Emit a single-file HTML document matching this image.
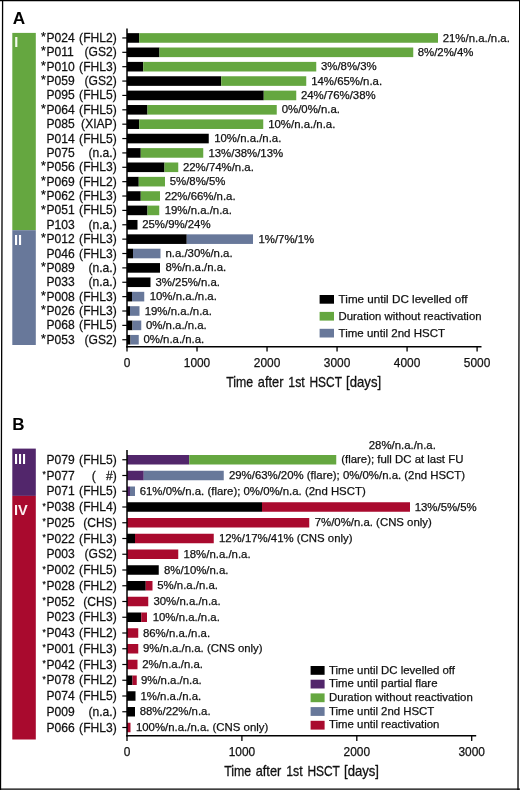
<!DOCTYPE html>
<html><head><meta charset="utf-8"><title>Figure</title>
<style>
html,body{margin:0;padding:0;background:#fff;}
body{width:520px;height:790px;overflow:hidden;}
svg{display:block;}
svg text{font-family:"Liberation Sans",sans-serif;}
</style></head><body>
<svg width="520" height="790" viewBox="0 0 520 790">
<rect x="0.00" y="0.00" width="520.00" height="790.00" fill="#fff"/>
<path d="M2.6 0 L0.5 790 M519.7 0 L518.0 790 M0 0.5 L520 0.5 M0 789.2 L520 789.2" fill="none" stroke="#000" stroke-width="1.3"/>
<rect x="12.30" y="32.90" width="23.50" height="197.30" fill="#65a740"/>
<rect x="12.30" y="230.20" width="23.50" height="114.80" fill="#68789a"/>
<line x1="122.30" y1="37.95" x2="127.00" y2="37.95" stroke="#000" stroke-width="1.2"/>
<rect x="127.00" y="33.15" width="12.25" height="9.60" fill="#000"/>
<rect x="139.25" y="33.15" width="298.75" height="9.60" fill="#65a740"/>
<line x1="122.30" y1="52.32" x2="127.00" y2="52.32" stroke="#000" stroke-width="1.2"/>
<rect x="127.00" y="47.52" width="32.50" height="9.60" fill="#000"/>
<rect x="159.50" y="47.52" width="253.75" height="9.60" fill="#65a740"/>
<line x1="122.30" y1="66.69" x2="127.00" y2="66.69" stroke="#000" stroke-width="1.2"/>
<rect x="127.00" y="61.89" width="16.25" height="9.60" fill="#000"/>
<rect x="143.25" y="61.89" width="173.00" height="9.60" fill="#65a740"/>
<line x1="122.30" y1="81.06" x2="127.00" y2="81.06" stroke="#000" stroke-width="1.2"/>
<rect x="127.00" y="76.26" width="94.25" height="9.60" fill="#000"/>
<rect x="221.25" y="76.26" width="85.00" height="9.60" fill="#65a740"/>
<line x1="122.30" y1="95.43" x2="127.00" y2="95.43" stroke="#000" stroke-width="1.2"/>
<rect x="127.00" y="90.63" width="136.75" height="9.60" fill="#000"/>
<rect x="263.75" y="90.63" width="32.50" height="9.60" fill="#65a740"/>
<line x1="122.30" y1="109.81" x2="127.00" y2="109.81" stroke="#000" stroke-width="1.2"/>
<rect x="127.00" y="105.01" width="20.50" height="9.60" fill="#000"/>
<rect x="147.50" y="105.01" width="129.25" height="9.60" fill="#65a740"/>
<line x1="122.30" y1="124.18" x2="127.00" y2="124.18" stroke="#000" stroke-width="1.2"/>
<rect x="127.00" y="119.38" width="12.25" height="9.60" fill="#000"/>
<rect x="139.25" y="119.38" width="124.00" height="9.60" fill="#65a740"/>
<line x1="122.30" y1="138.55" x2="127.00" y2="138.55" stroke="#000" stroke-width="1.2"/>
<rect x="127.00" y="133.75" width="81.75" height="9.60" fill="#000"/>
<line x1="122.30" y1="152.92" x2="127.00" y2="152.92" stroke="#000" stroke-width="1.2"/>
<rect x="127.00" y="148.12" width="13.75" height="9.60" fill="#000"/>
<rect x="140.75" y="148.12" width="62.50" height="9.60" fill="#65a740"/>
<line x1="122.30" y1="167.29" x2="127.00" y2="167.29" stroke="#000" stroke-width="1.2"/>
<rect x="127.00" y="162.49" width="37.50" height="9.60" fill="#000"/>
<rect x="164.50" y="162.49" width="13.75" height="9.60" fill="#65a740"/>
<line x1="122.30" y1="181.66" x2="127.00" y2="181.66" stroke="#000" stroke-width="1.2"/>
<rect x="127.00" y="176.86" width="11.75" height="9.60" fill="#000"/>
<rect x="138.75" y="176.86" width="26.25" height="9.60" fill="#65a740"/>
<line x1="122.30" y1="196.03" x2="127.00" y2="196.03" stroke="#000" stroke-width="1.2"/>
<rect x="127.00" y="191.23" width="13.75" height="9.60" fill="#000"/>
<rect x="140.75" y="191.23" width="19.25" height="9.60" fill="#65a740"/>
<line x1="122.30" y1="210.40" x2="127.00" y2="210.40" stroke="#000" stroke-width="1.2"/>
<rect x="127.00" y="205.60" width="20.50" height="9.60" fill="#000"/>
<rect x="147.50" y="205.60" width="11.75" height="9.60" fill="#65a740"/>
<line x1="122.30" y1="224.77" x2="127.00" y2="224.77" stroke="#000" stroke-width="1.2"/>
<rect x="127.00" y="219.97" width="10.50" height="9.60" fill="#000"/>
<line x1="122.30" y1="239.14" x2="127.00" y2="239.14" stroke="#000" stroke-width="1.2"/>
<rect x="127.00" y="234.34" width="59.75" height="9.60" fill="#000"/>
<rect x="186.75" y="234.34" width="66.25" height="9.60" fill="#68789a"/>
<line x1="122.30" y1="253.51" x2="127.00" y2="253.51" stroke="#000" stroke-width="1.2"/>
<rect x="127.00" y="248.71" width="6.00" height="9.60" fill="#000"/>
<rect x="133.00" y="248.71" width="27.50" height="9.60" fill="#68789a"/>
<line x1="122.30" y1="267.89" x2="127.00" y2="267.89" stroke="#000" stroke-width="1.2"/>
<rect x="127.00" y="263.09" width="33.00" height="9.60" fill="#000"/>
<line x1="122.30" y1="282.26" x2="127.00" y2="282.26" stroke="#000" stroke-width="1.2"/>
<rect x="127.00" y="277.46" width="23.50" height="9.60" fill="#000"/>
<line x1="122.30" y1="296.63" x2="127.00" y2="296.63" stroke="#000" stroke-width="1.2"/>
<rect x="127.00" y="291.83" width="5.00" height="9.60" fill="#000"/>
<rect x="132.00" y="291.83" width="12.25" height="9.60" fill="#68789a"/>
<line x1="122.30" y1="311.00" x2="127.00" y2="311.00" stroke="#000" stroke-width="1.2"/>
<rect x="127.00" y="306.20" width="3.00" height="9.60" fill="#000"/>
<rect x="130.00" y="306.20" width="9.50" height="9.60" fill="#68789a"/>
<line x1="122.30" y1="325.37" x2="127.00" y2="325.37" stroke="#000" stroke-width="1.2"/>
<rect x="127.00" y="320.57" width="5.50" height="9.60" fill="#000"/>
<rect x="132.50" y="320.57" width="8.75" height="9.60" fill="#68789a"/>
<line x1="122.30" y1="339.74" x2="127.00" y2="339.74" stroke="#000" stroke-width="1.2"/>
<rect x="127.00" y="334.94" width="3.50" height="9.60" fill="#000"/>
<rect x="130.50" y="334.94" width="8.25" height="9.60" fill="#68789a"/>
<line x1="127.00" y1="28.50" x2="127.00" y2="347.50" stroke="#000" stroke-width="1.5"/>
<line x1="126.30" y1="346.80" x2="481.50" y2="346.80" stroke="#000" stroke-width="1.5"/>
<line x1="127.00" y1="346.80" x2="127.00" y2="351.60" stroke="#000" stroke-width="1.3"/>
<line x1="197.02" y1="346.80" x2="197.02" y2="351.60" stroke="#000" stroke-width="1.3"/>
<line x1="267.04" y1="346.80" x2="267.04" y2="351.60" stroke="#000" stroke-width="1.3"/>
<line x1="337.06" y1="346.80" x2="337.06" y2="351.60" stroke="#000" stroke-width="1.3"/>
<line x1="407.08" y1="346.80" x2="407.08" y2="351.60" stroke="#000" stroke-width="1.3"/>
<line x1="477.10" y1="346.80" x2="477.10" y2="351.60" stroke="#000" stroke-width="1.3"/>
<rect x="319.60" y="295.00" width="14.40" height="8.70" fill="#000"/>
<rect x="319.60" y="311.90" width="14.40" height="8.70" fill="#65a740"/>
<rect x="319.60" y="328.80" width="14.40" height="8.70" fill="#68789a"/>
<rect x="12.30" y="448.60" width="23.50" height="47.30" fill="#52266b"/>
<rect x="12.30" y="495.90" width="23.50" height="243.60" fill="#a90a2e"/>
<line x1="122.30" y1="459.75" x2="127.00" y2="459.75" stroke="#000" stroke-width="1.2"/>
<rect x="127.00" y="455.00" width="62.25" height="9.50" fill="#52266b"/>
<rect x="189.25" y="455.00" width="147.00" height="9.50" fill="#65a740"/>
<line x1="122.30" y1="475.50" x2="127.00" y2="475.50" stroke="#000" stroke-width="1.2"/>
<rect x="127.00" y="470.75" width="16.75" height="9.50" fill="#52266b"/>
<rect x="143.75" y="470.75" width="80.00" height="9.50" fill="#68789a"/>
<line x1="122.30" y1="491.25" x2="127.00" y2="491.25" stroke="#000" stroke-width="1.2"/>
<rect x="127.00" y="486.50" width="3.00" height="9.50" fill="#52266b"/>
<rect x="130.00" y="486.50" width="5.00" height="9.50" fill="#68789a"/>
<line x1="122.30" y1="507.00" x2="127.00" y2="507.00" stroke="#000" stroke-width="1.2"/>
<rect x="127.00" y="502.25" width="135.00" height="9.50" fill="#000"/>
<rect x="262.00" y="502.25" width="148.00" height="9.50" fill="#a90a2e"/>
<line x1="122.30" y1="522.75" x2="127.00" y2="522.75" stroke="#000" stroke-width="1.2"/>
<rect x="127.00" y="518.00" width="182.25" height="9.50" fill="#a90a2e"/>
<line x1="122.30" y1="538.50" x2="127.00" y2="538.50" stroke="#000" stroke-width="1.2"/>
<rect x="127.00" y="533.75" width="8.00" height="9.50" fill="#000"/>
<rect x="135.00" y="533.75" width="78.75" height="9.50" fill="#a90a2e"/>
<line x1="122.30" y1="554.25" x2="127.00" y2="554.25" stroke="#000" stroke-width="1.2"/>
<rect x="127.00" y="549.50" width="51.25" height="9.50" fill="#a90a2e"/>
<line x1="122.30" y1="570.00" x2="127.00" y2="570.00" stroke="#000" stroke-width="1.2"/>
<rect x="127.00" y="565.25" width="31.75" height="9.50" fill="#000"/>
<line x1="122.30" y1="585.75" x2="127.00" y2="585.75" stroke="#000" stroke-width="1.2"/>
<rect x="127.00" y="581.00" width="18.75" height="9.50" fill="#000"/>
<rect x="145.75" y="581.00" width="6.75" height="9.50" fill="#a90a2e"/>
<line x1="122.30" y1="601.50" x2="127.00" y2="601.50" stroke="#000" stroke-width="1.2"/>
<rect x="127.00" y="596.75" width="21.25" height="9.50" fill="#a90a2e"/>
<line x1="122.30" y1="617.25" x2="127.00" y2="617.25" stroke="#000" stroke-width="1.2"/>
<rect x="127.00" y="612.50" width="14.25" height="9.50" fill="#000"/>
<rect x="141.25" y="612.50" width="5.75" height="9.50" fill="#a90a2e"/>
<line x1="122.30" y1="633.00" x2="127.00" y2="633.00" stroke="#000" stroke-width="1.2"/>
<rect x="127.00" y="628.25" width="11.25" height="9.50" fill="#a90a2e"/>
<line x1="122.30" y1="648.75" x2="127.00" y2="648.75" stroke="#000" stroke-width="1.2"/>
<rect x="127.00" y="644.00" width="11.25" height="9.50" fill="#a90a2e"/>
<line x1="122.30" y1="664.50" x2="127.00" y2="664.50" stroke="#000" stroke-width="1.2"/>
<rect x="127.00" y="659.75" width="10.50" height="9.50" fill="#a90a2e"/>
<line x1="122.30" y1="680.25" x2="127.00" y2="680.25" stroke="#000" stroke-width="1.2"/>
<rect x="127.00" y="675.50" width="5.50" height="9.50" fill="#000"/>
<rect x="132.50" y="675.50" width="4.25" height="9.50" fill="#a90a2e"/>
<line x1="122.30" y1="696.00" x2="127.00" y2="696.00" stroke="#000" stroke-width="1.2"/>
<rect x="127.00" y="691.25" width="8.50" height="9.50" fill="#000"/>
<line x1="122.30" y1="711.75" x2="127.00" y2="711.75" stroke="#000" stroke-width="1.2"/>
<rect x="127.00" y="707.00" width="8.00" height="9.50" fill="#000"/>
<line x1="122.30" y1="727.50" x2="127.00" y2="727.50" stroke="#000" stroke-width="1.2"/>
<rect x="127.00" y="722.75" width="3.50" height="9.50" fill="#a90a2e"/>
<line x1="127.00" y1="450.00" x2="127.00" y2="736.50" stroke="#000" stroke-width="1.5"/>
<line x1="126.30" y1="735.75" x2="476.20" y2="735.75" stroke="#000" stroke-width="1.5"/>
<line x1="127.00" y1="735.75" x2="127.00" y2="741.00" stroke="#000" stroke-width="1.3"/>
<line x1="241.90" y1="735.75" x2="241.90" y2="741.00" stroke="#000" stroke-width="1.3"/>
<line x1="356.80" y1="735.75" x2="356.80" y2="741.00" stroke="#000" stroke-width="1.3"/>
<line x1="471.70" y1="735.75" x2="471.70" y2="741.00" stroke="#000" stroke-width="1.3"/>
<rect x="310.60" y="666.00" width="14.00" height="8.80" fill="#000"/>
<rect x="310.60" y="679.70" width="14.00" height="8.80" fill="#52266b"/>
<rect x="310.60" y="693.40" width="14.00" height="8.80" fill="#65a740"/>
<rect x="310.60" y="707.10" width="14.00" height="8.80" fill="#68789a"/>
<rect x="310.60" y="720.80" width="14.00" height="8.80" fill="#a90a2e"/>
<g opacity="0.999">
<text x="12.70" y="24.30" font-size="17.2" text-anchor="start" font-weight="bold" fill="#000" stroke="#000" stroke-width="0" >A</text>
<text x="14.20" y="47.40" font-size="14.5" text-anchor="start" font-weight="bold" fill="#f4f9ee" stroke="#f4f9ee" stroke-width="0" >I</text>
<text x="14.00" y="245.20" font-size="14.5" text-anchor="start" font-weight="bold" fill="#fff" stroke="#fff" stroke-width="0" >II</text>
<text x="41.00" y="41.05" font-size="12.5" text-anchor="start" font-weight="normal" fill="#111" stroke="#111" stroke-width="0.25" >*</text>
<text transform="translate(46.5,41.95) scale(1.008,1)" font-size="12.0" fill="#111" stroke="#111" stroke-width="0.25">P024</text>
<text transform="translate(116.7,41.95) scale(1.008,1)" font-size="12.0" text-anchor="end" fill="#111" stroke="#111" stroke-width="0.25" xml:space="preserve">(FHL2)</text>
<text x="442.70" y="41.55" font-size="11.4" text-anchor="start" font-weight="normal" fill="#111" stroke="#111" stroke-width="0.25" >21%/n.a./n.a.</text>
<text x="41.00" y="55.42" font-size="12.5" text-anchor="start" font-weight="normal" fill="#111" stroke="#111" stroke-width="0.25" >*</text>
<text transform="translate(46.5,56.32) scale(1.008,1)" font-size="12.0" fill="#111" stroke="#111" stroke-width="0.25">P011</text>
<text transform="translate(116.7,56.32) scale(1.008,1)" font-size="12.0" text-anchor="end" fill="#111" stroke="#111" stroke-width="0.25" xml:space="preserve">(GS2)</text>
<text x="417.70" y="55.92" font-size="11.4" text-anchor="start" font-weight="normal" fill="#111" stroke="#111" stroke-width="0.25" >8%/2%/4%</text>
<text x="41.00" y="69.79" font-size="12.5" text-anchor="start" font-weight="normal" fill="#111" stroke="#111" stroke-width="0.25" >*</text>
<text transform="translate(46.5,70.69) scale(1.008,1)" font-size="12.0" fill="#111" stroke="#111" stroke-width="0.25">P010</text>
<text transform="translate(116.7,70.69) scale(1.008,1)" font-size="12.0" text-anchor="end" fill="#111" stroke="#111" stroke-width="0.25" xml:space="preserve">(FHL3)</text>
<text x="320.95" y="70.29" font-size="11.4" text-anchor="start" font-weight="normal" fill="#111" stroke="#111" stroke-width="0.25" >3%/8%/3%</text>
<text x="41.00" y="84.16" font-size="12.5" text-anchor="start" font-weight="normal" fill="#111" stroke="#111" stroke-width="0.25" >*</text>
<text transform="translate(46.5,85.06) scale(1.008,1)" font-size="12.0" fill="#111" stroke="#111" stroke-width="0.25">P059</text>
<text transform="translate(116.7,85.06) scale(1.008,1)" font-size="12.0" text-anchor="end" fill="#111" stroke="#111" stroke-width="0.25" xml:space="preserve">(GS2)</text>
<text x="311.20" y="84.66" font-size="11.4" text-anchor="start" font-weight="normal" fill="#111" stroke="#111" stroke-width="0.25" >14%/65%/n.a.</text>
<text transform="translate(46.5,99.43) scale(1.008,1)" font-size="12.0" fill="#111" stroke="#111" stroke-width="0.25">P095</text>
<text transform="translate(116.7,99.43) scale(1.008,1)" font-size="12.0" text-anchor="end" fill="#111" stroke="#111" stroke-width="0.25" xml:space="preserve">(FHL5)</text>
<text x="300.95" y="99.03" font-size="11.4" text-anchor="start" font-weight="normal" fill="#111" stroke="#111" stroke-width="0.25" >24%/76%/38%</text>
<text x="41.00" y="112.91" font-size="12.5" text-anchor="start" font-weight="normal" fill="#111" stroke="#111" stroke-width="0.25" >*</text>
<text transform="translate(46.5,113.81) scale(1.008,1)" font-size="12.0" fill="#111" stroke="#111" stroke-width="0.25">P064</text>
<text transform="translate(116.7,113.81) scale(1.008,1)" font-size="12.0" text-anchor="end" fill="#111" stroke="#111" stroke-width="0.25" xml:space="preserve">(FHL5)</text>
<text x="281.70" y="113.41" font-size="11.4" text-anchor="start" font-weight="normal" fill="#111" stroke="#111" stroke-width="0.25" >0%/0%/n.a.</text>
<text transform="translate(46.5,128.18) scale(1.008,1)" font-size="12.0" fill="#111" stroke="#111" stroke-width="0.25">P085</text>
<text transform="translate(116.7,128.18) scale(1.008,1)" font-size="12.0" text-anchor="end" fill="#111" stroke="#111" stroke-width="0.25" xml:space="preserve">(XIAP)</text>
<text x="268.20" y="127.78" font-size="11.4" text-anchor="start" font-weight="normal" fill="#111" stroke="#111" stroke-width="0.25" >10%/n.a./n.a.</text>
<text transform="translate(46.5,142.55) scale(1.008,1)" font-size="12.0" fill="#111" stroke="#111" stroke-width="0.25">P014</text>
<text transform="translate(116.7,142.55) scale(1.008,1)" font-size="12.0" text-anchor="end" fill="#111" stroke="#111" stroke-width="0.25" xml:space="preserve">(FHL5)</text>
<text x="214.20" y="142.15" font-size="11.4" text-anchor="start" font-weight="normal" fill="#111" stroke="#111" stroke-width="0.25" >10%/n.a./n.a.</text>
<text transform="translate(46.5,156.92) scale(1.008,1)" font-size="12.0" fill="#111" stroke="#111" stroke-width="0.25">P075</text>
<text transform="translate(116.7,156.92) scale(1.008,1)" font-size="12.0" text-anchor="end" fill="#111" stroke="#111" stroke-width="0.25" xml:space="preserve">(n.a.)</text>
<text x="208.45" y="156.52" font-size="11.4" text-anchor="start" font-weight="normal" fill="#111" stroke="#111" stroke-width="0.25" >13%/38%/13%</text>
<text x="41.00" y="170.39" font-size="12.5" text-anchor="start" font-weight="normal" fill="#111" stroke="#111" stroke-width="0.25" >*</text>
<text transform="translate(46.5,171.29) scale(1.008,1)" font-size="12.0" fill="#111" stroke="#111" stroke-width="0.25">P056</text>
<text transform="translate(116.7,171.29) scale(1.008,1)" font-size="12.0" text-anchor="end" fill="#111" stroke="#111" stroke-width="0.25" xml:space="preserve">(FHL3)</text>
<text x="182.95" y="170.89" font-size="11.4" text-anchor="start" font-weight="normal" fill="#111" stroke="#111" stroke-width="0.25" >22%/74%/n.a.</text>
<text x="41.00" y="184.76" font-size="12.5" text-anchor="start" font-weight="normal" fill="#111" stroke="#111" stroke-width="0.25" >*</text>
<text transform="translate(46.5,185.66) scale(1.008,1)" font-size="12.0" fill="#111" stroke="#111" stroke-width="0.25">P069</text>
<text transform="translate(116.7,185.66) scale(1.008,1)" font-size="12.0" text-anchor="end" fill="#111" stroke="#111" stroke-width="0.25" xml:space="preserve">(FHL2)</text>
<text x="169.70" y="185.26" font-size="11.4" text-anchor="start" font-weight="normal" fill="#111" stroke="#111" stroke-width="0.25" >5%/8%/5%</text>
<text x="41.00" y="199.13" font-size="12.5" text-anchor="start" font-weight="normal" fill="#111" stroke="#111" stroke-width="0.25" >*</text>
<text transform="translate(46.5,200.03) scale(1.008,1)" font-size="12.0" fill="#111" stroke="#111" stroke-width="0.25">P062</text>
<text transform="translate(116.7,200.03) scale(1.008,1)" font-size="12.0" text-anchor="end" fill="#111" stroke="#111" stroke-width="0.25" xml:space="preserve">(FHL3)</text>
<text x="164.70" y="199.63" font-size="11.4" text-anchor="start" font-weight="normal" fill="#111" stroke="#111" stroke-width="0.25" >22%/66%/n.a.</text>
<text x="41.00" y="213.50" font-size="12.5" text-anchor="start" font-weight="normal" fill="#111" stroke="#111" stroke-width="0.25" >*</text>
<text transform="translate(46.5,214.40) scale(1.008,1)" font-size="12.0" fill="#111" stroke="#111" stroke-width="0.25">P051</text>
<text transform="translate(116.7,214.40) scale(1.008,1)" font-size="12.0" text-anchor="end" fill="#111" stroke="#111" stroke-width="0.25" xml:space="preserve">(FHL5)</text>
<text x="164.70" y="214.00" font-size="11.4" text-anchor="start" font-weight="normal" fill="#111" stroke="#111" stroke-width="0.25" >19%/n.a./n.a.</text>
<text transform="translate(46.5,228.77) scale(1.008,1)" font-size="12.0" fill="#111" stroke="#111" stroke-width="0.25">P103</text>
<text transform="translate(116.7,228.77) scale(1.008,1)" font-size="12.0" text-anchor="end" fill="#111" stroke="#111" stroke-width="0.25" xml:space="preserve">(n.a.)</text>
<text x="142.20" y="228.37" font-size="11.4" text-anchor="start" font-weight="normal" fill="#111" stroke="#111" stroke-width="0.25" >25%/9%/24%</text>
<text x="41.00" y="242.24" font-size="12.5" text-anchor="start" font-weight="normal" fill="#111" stroke="#111" stroke-width="0.25" >*</text>
<text transform="translate(46.5,243.14) scale(1.008,1)" font-size="12.0" fill="#111" stroke="#111" stroke-width="0.25">P012</text>
<text transform="translate(116.7,243.14) scale(1.008,1)" font-size="12.0" text-anchor="end" fill="#111" stroke="#111" stroke-width="0.25" xml:space="preserve">(FHL3)</text>
<text x="258.45" y="242.74" font-size="11.4" text-anchor="start" font-weight="normal" fill="#111" stroke="#111" stroke-width="0.25" >1%/7%/1%</text>
<text transform="translate(46.5,257.51) scale(1.008,1)" font-size="12.0" fill="#111" stroke="#111" stroke-width="0.25">P046</text>
<text transform="translate(116.7,257.51) scale(1.008,1)" font-size="12.0" text-anchor="end" fill="#111" stroke="#111" stroke-width="0.25" xml:space="preserve">(FHL3)</text>
<text x="165.45" y="257.12" font-size="11.4" text-anchor="start" font-weight="normal" fill="#111" stroke="#111" stroke-width="0.25" >n.a./30%/n.a.</text>
<text x="41.00" y="270.99" font-size="12.5" text-anchor="start" font-weight="normal" fill="#111" stroke="#111" stroke-width="0.25" >*</text>
<text transform="translate(46.5,271.89) scale(1.008,1)" font-size="12.0" fill="#111" stroke="#111" stroke-width="0.25">P089</text>
<text transform="translate(116.7,271.89) scale(1.008,1)" font-size="12.0" text-anchor="end" fill="#111" stroke="#111" stroke-width="0.25" xml:space="preserve">(n.a.)</text>
<text x="165.45" y="271.49" font-size="11.4" text-anchor="start" font-weight="normal" fill="#111" stroke="#111" stroke-width="0.25" >8%/n.a./n.a.</text>
<text transform="translate(46.5,286.26) scale(1.008,1)" font-size="12.0" fill="#111" stroke="#111" stroke-width="0.25">P033</text>
<text transform="translate(116.7,286.26) scale(1.008,1)" font-size="12.0" text-anchor="end" fill="#111" stroke="#111" stroke-width="0.25" xml:space="preserve">(n.a.)</text>
<text x="155.45" y="285.86" font-size="11.4" text-anchor="start" font-weight="normal" fill="#111" stroke="#111" stroke-width="0.25" >3%/25%/n.a.</text>
<text x="41.00" y="299.73" font-size="12.5" text-anchor="start" font-weight="normal" fill="#111" stroke="#111" stroke-width="0.25" >*</text>
<text transform="translate(46.5,300.63) scale(1.008,1)" font-size="12.0" fill="#111" stroke="#111" stroke-width="0.25">P008</text>
<text transform="translate(116.7,300.63) scale(1.008,1)" font-size="12.0" text-anchor="end" fill="#111" stroke="#111" stroke-width="0.25" xml:space="preserve">(FHL3)</text>
<text x="149.70" y="300.23" font-size="11.4" text-anchor="start" font-weight="normal" fill="#111" stroke="#111" stroke-width="0.25" >10%/n.a./n.a.</text>
<text x="41.00" y="314.10" font-size="12.5" text-anchor="start" font-weight="normal" fill="#111" stroke="#111" stroke-width="0.25" >*</text>
<text transform="translate(46.5,315.00) scale(1.008,1)" font-size="12.0" fill="#111" stroke="#111" stroke-width="0.25">P026</text>
<text transform="translate(116.7,315.00) scale(1.008,1)" font-size="12.0" text-anchor="end" fill="#111" stroke="#111" stroke-width="0.25" xml:space="preserve">(FHL3)</text>
<text x="144.70" y="314.60" font-size="11.4" text-anchor="start" font-weight="normal" fill="#111" stroke="#111" stroke-width="0.25" >19%/n.a./n.a.</text>
<text transform="translate(46.5,329.37) scale(1.008,1)" font-size="12.0" fill="#111" stroke="#111" stroke-width="0.25">P068</text>
<text transform="translate(116.7,329.37) scale(1.008,1)" font-size="12.0" text-anchor="end" fill="#111" stroke="#111" stroke-width="0.25" xml:space="preserve">(FHL5)</text>
<text x="145.95" y="328.97" font-size="11.4" text-anchor="start" font-weight="normal" fill="#111" stroke="#111" stroke-width="0.25" >0%/n.a./n.a.</text>
<text x="41.00" y="342.84" font-size="12.5" text-anchor="start" font-weight="normal" fill="#111" stroke="#111" stroke-width="0.25" >*</text>
<text transform="translate(46.5,343.74) scale(1.008,1)" font-size="12.0" fill="#111" stroke="#111" stroke-width="0.25">P053</text>
<text transform="translate(116.7,343.74) scale(1.008,1)" font-size="12.0" text-anchor="end" fill="#111" stroke="#111" stroke-width="0.25" xml:space="preserve">(GS2)</text>
<text x="143.45" y="343.34" font-size="11.4" text-anchor="start" font-weight="normal" fill="#111" stroke="#111" stroke-width="0.25" >0%/n.a./n.a.</text>
<text x="127.00" y="366.70" font-size="11.9" text-anchor="middle" font-weight="normal" fill="#111" stroke="#111" stroke-width="0.25" >0</text>
<text x="197.02" y="366.70" font-size="11.9" text-anchor="middle" font-weight="normal" fill="#111" stroke="#111" stroke-width="0.25" >1000</text>
<text x="267.04" y="366.70" font-size="11.9" text-anchor="middle" font-weight="normal" fill="#111" stroke="#111" stroke-width="0.25" >2000</text>
<text x="337.06" y="366.70" font-size="11.9" text-anchor="middle" font-weight="normal" fill="#111" stroke="#111" stroke-width="0.25" >3000</text>
<text x="407.08" y="366.70" font-size="11.9" text-anchor="middle" font-weight="normal" fill="#111" stroke="#111" stroke-width="0.25" >4000</text>
<text x="477.10" y="366.70" font-size="11.9" text-anchor="middle" font-weight="normal" fill="#111" stroke="#111" stroke-width="0.25" >5000</text>
<text x="226.30" y="386.7" font-size="14.4" fill="#111" stroke="#111" stroke-width="0.3" textLength="26.90" lengthAdjust="spacingAndGlyphs">Time</text>
<text x="257.80" y="386.7" font-size="14.4" fill="#111" stroke="#111" stroke-width="0.3" textLength="25.60" lengthAdjust="spacingAndGlyphs">after</text>
<text x="288.30" y="386.7" font-size="14.4" fill="#111" stroke="#111" stroke-width="0.3" textLength="16.40" lengthAdjust="spacingAndGlyphs">1st</text>
<text x="309.50" y="386.7" font-size="14.4" fill="#111" stroke="#111" stroke-width="0.3" textLength="32.50" lengthAdjust="spacingAndGlyphs">HSCT</text>
<text x="346.10" y="386.7" font-size="14.4" fill="#111" stroke="#111" stroke-width="0.3" textLength="35.00" lengthAdjust="spacingAndGlyphs">[days]</text>
<text x="338.60" y="302.70" font-size="11.4" text-anchor="start" font-weight="normal" fill="#111" stroke="#111" stroke-width="0.25" textLength="129.0" lengthAdjust="spacingAndGlyphs">Time until DC levelled off</text>
<text x="338.60" y="319.60" font-size="11.4" text-anchor="start" font-weight="normal" fill="#111" stroke="#111" stroke-width="0.25" textLength="142.9" lengthAdjust="spacingAndGlyphs">Duration without reactivation</text>
<text x="338.60" y="336.50" font-size="11.4" text-anchor="start" font-weight="normal" fill="#111" stroke="#111" stroke-width="0.25" textLength="106.4" lengthAdjust="spacingAndGlyphs">Time until 2nd HSCT</text>
<text x="12.20" y="429.80" font-size="17" text-anchor="start" font-weight="bold" fill="#000" stroke="#000" stroke-width="0" >B</text>
<text x="14.00" y="464.40" font-size="14.5" text-anchor="start" font-weight="bold" fill="#fff" stroke="#fff" stroke-width="0" >III</text>
<text x="14.00" y="515.00" font-size="14.5" text-anchor="start" font-weight="bold" fill="#fdf0f2" stroke="#fdf0f2" stroke-width="0" >IV</text>
<text transform="translate(46.5,463.75) scale(1.008,1)" font-size="12.0" fill="#111" stroke="#111" stroke-width="0.25">P079</text>
<text transform="translate(116.7,463.75) scale(1.008,1)" font-size="12.0" text-anchor="end" fill="#111" stroke="#111" stroke-width="0.25" xml:space="preserve">(FHL5)</text>
<text x="42.50" y="477.20" font-size="8.5" text-anchor="start" font-weight="normal" fill="#111" stroke="#111" stroke-width="0.25" >*</text>
<text transform="translate(46.5,479.50) scale(1.008,1)" font-size="12.0" fill="#111" stroke="#111" stroke-width="0.25">P077</text>
<text transform="translate(116.7,479.50) scale(1.008,1)" font-size="12.0" text-anchor="end" fill="#111" stroke="#111" stroke-width="0.25" xml:space="preserve">(&#160;&#160;&#160;#)</text>
<text x="228.95" y="479.10" font-size="11.4" text-anchor="start" font-weight="normal" fill="#111" stroke="#111" stroke-width="0.25" >29%/63%/20% (flare); 0%/0%/n.a. (2nd HSCT)</text>
<text transform="translate(46.5,495.25) scale(1.008,1)" font-size="12.0" fill="#111" stroke="#111" stroke-width="0.25">P071</text>
<text transform="translate(116.7,495.25) scale(1.008,1)" font-size="12.0" text-anchor="end" fill="#111" stroke="#111" stroke-width="0.25" xml:space="preserve">(FHL5)</text>
<text x="139.70" y="494.85" font-size="11.4" text-anchor="start" font-weight="normal" fill="#111" stroke="#111" stroke-width="0.25" >61%/0%/n.a. (flare); 0%/0%/n.a. (2nd HSCT)</text>
<text x="42.50" y="508.70" font-size="8.5" text-anchor="start" font-weight="normal" fill="#111" stroke="#111" stroke-width="0.25" >*</text>
<text transform="translate(46.5,511.00) scale(1.008,1)" font-size="12.0" fill="#111" stroke="#111" stroke-width="0.25">P038</text>
<text transform="translate(116.7,511.00) scale(1.008,1)" font-size="12.0" text-anchor="end" fill="#111" stroke="#111" stroke-width="0.25" xml:space="preserve">(FHL4)</text>
<text x="414.70" y="510.60" font-size="11.4" text-anchor="start" font-weight="normal" fill="#111" stroke="#111" stroke-width="0.25" >13%/5%/5%</text>
<text x="42.50" y="524.45" font-size="8.5" text-anchor="start" font-weight="normal" fill="#111" stroke="#111" stroke-width="0.25" >*</text>
<text transform="translate(46.5,526.75) scale(1.008,1)" font-size="12.0" fill="#111" stroke="#111" stroke-width="0.25">P025</text>
<text transform="translate(116.7,526.75) scale(1.008,1)" font-size="12.0" text-anchor="end" fill="#111" stroke="#111" stroke-width="0.25" xml:space="preserve">(CHS)</text>
<text x="314.70" y="526.35" font-size="11.4" text-anchor="start" font-weight="normal" fill="#111" stroke="#111" stroke-width="0.25" >7%/0%/n.a. (CNS only)</text>
<text x="42.50" y="540.20" font-size="8.5" text-anchor="start" font-weight="normal" fill="#111" stroke="#111" stroke-width="0.25" >*</text>
<text transform="translate(46.5,542.50) scale(1.008,1)" font-size="12.0" fill="#111" stroke="#111" stroke-width="0.25">P022</text>
<text transform="translate(116.7,542.50) scale(1.008,1)" font-size="12.0" text-anchor="end" fill="#111" stroke="#111" stroke-width="0.25" xml:space="preserve">(FHL3)</text>
<text x="218.95" y="542.10" font-size="11.4" text-anchor="start" font-weight="normal" fill="#111" stroke="#111" stroke-width="0.25" >12%/17%/41% (CNS only)</text>
<text transform="translate(46.5,558.25) scale(1.008,1)" font-size="12.0" fill="#111" stroke="#111" stroke-width="0.25">P003</text>
<text transform="translate(116.7,558.25) scale(1.008,1)" font-size="12.0" text-anchor="end" fill="#111" stroke="#111" stroke-width="0.25" xml:space="preserve">(GS2)</text>
<text x="183.45" y="557.85" font-size="11.4" text-anchor="start" font-weight="normal" fill="#111" stroke="#111" stroke-width="0.25" >18%/n.a./n.a.</text>
<text x="42.50" y="571.70" font-size="8.5" text-anchor="start" font-weight="normal" fill="#111" stroke="#111" stroke-width="0.25" >*</text>
<text transform="translate(46.5,574.00) scale(1.008,1)" font-size="12.0" fill="#111" stroke="#111" stroke-width="0.25">P002</text>
<text transform="translate(116.7,574.00) scale(1.008,1)" font-size="12.0" text-anchor="end" fill="#111" stroke="#111" stroke-width="0.25" xml:space="preserve">(FHL5)</text>
<text x="163.95" y="573.60" font-size="11.4" text-anchor="start" font-weight="normal" fill="#111" stroke="#111" stroke-width="0.25" >8%/10%/n.a.</text>
<text x="42.50" y="587.45" font-size="8.5" text-anchor="start" font-weight="normal" fill="#111" stroke="#111" stroke-width="0.25" >*</text>
<text transform="translate(46.5,589.75) scale(1.008,1)" font-size="12.0" fill="#111" stroke="#111" stroke-width="0.25">P028</text>
<text transform="translate(116.7,589.75) scale(1.008,1)" font-size="12.0" text-anchor="end" fill="#111" stroke="#111" stroke-width="0.25" xml:space="preserve">(FHL2)</text>
<text x="157.20" y="589.35" font-size="11.4" text-anchor="start" font-weight="normal" fill="#111" stroke="#111" stroke-width="0.25" >5%/n.a./n.a.</text>
<text x="42.50" y="603.20" font-size="8.5" text-anchor="start" font-weight="normal" fill="#111" stroke="#111" stroke-width="0.25" >*</text>
<text transform="translate(46.5,605.50) scale(1.008,1)" font-size="12.0" fill="#111" stroke="#111" stroke-width="0.25">P052</text>
<text transform="translate(116.7,605.50) scale(1.008,1)" font-size="12.0" text-anchor="end" fill="#111" stroke="#111" stroke-width="0.25" xml:space="preserve">(CHS)</text>
<text x="153.45" y="605.10" font-size="11.4" text-anchor="start" font-weight="normal" fill="#111" stroke="#111" stroke-width="0.25" >30%/n.a./n.a.</text>
<text transform="translate(46.5,621.25) scale(1.008,1)" font-size="12.0" fill="#111" stroke="#111" stroke-width="0.25">P023</text>
<text transform="translate(116.7,621.25) scale(1.008,1)" font-size="12.0" text-anchor="end" fill="#111" stroke="#111" stroke-width="0.25" xml:space="preserve">(FHL3)</text>
<text x="152.70" y="620.85" font-size="11.4" text-anchor="start" font-weight="normal" fill="#111" stroke="#111" stroke-width="0.25" >10%/n.a./n.a.</text>
<text x="42.50" y="634.70" font-size="8.5" text-anchor="start" font-weight="normal" fill="#111" stroke="#111" stroke-width="0.25" >*</text>
<text transform="translate(46.5,637.00) scale(1.008,1)" font-size="12.0" fill="#111" stroke="#111" stroke-width="0.25">P043</text>
<text transform="translate(116.7,637.00) scale(1.008,1)" font-size="12.0" text-anchor="end" fill="#111" stroke="#111" stroke-width="0.25" xml:space="preserve">(FHL2)</text>
<text x="142.95" y="636.60" font-size="11.4" text-anchor="start" font-weight="normal" fill="#111" stroke="#111" stroke-width="0.25" >86%/n.a./n.a.</text>
<text x="42.50" y="650.45" font-size="8.5" text-anchor="start" font-weight="normal" fill="#111" stroke="#111" stroke-width="0.25" >*</text>
<text transform="translate(46.5,652.75) scale(1.008,1)" font-size="12.0" fill="#111" stroke="#111" stroke-width="0.25">P001</text>
<text transform="translate(116.7,652.75) scale(1.008,1)" font-size="12.0" text-anchor="end" fill="#111" stroke="#111" stroke-width="0.25" xml:space="preserve">(FHL3)</text>
<text x="142.95" y="652.35" font-size="11.4" text-anchor="start" font-weight="normal" fill="#111" stroke="#111" stroke-width="0.25" >9%/n.a./n.a. (CNS only)</text>
<text x="42.50" y="666.20" font-size="8.5" text-anchor="start" font-weight="normal" fill="#111" stroke="#111" stroke-width="0.25" >*</text>
<text transform="translate(46.5,668.50) scale(1.008,1)" font-size="12.0" fill="#111" stroke="#111" stroke-width="0.25">P042</text>
<text transform="translate(116.7,668.50) scale(1.008,1)" font-size="12.0" text-anchor="end" fill="#111" stroke="#111" stroke-width="0.25" xml:space="preserve">(FHL3)</text>
<text x="142.20" y="668.10" font-size="11.4" text-anchor="start" font-weight="normal" fill="#111" stroke="#111" stroke-width="0.25" >2%/n.a./n.a.</text>
<text x="42.50" y="681.95" font-size="8.5" text-anchor="start" font-weight="normal" fill="#111" stroke="#111" stroke-width="0.25" >*</text>
<text transform="translate(46.5,684.25) scale(1.008,1)" font-size="12.0" fill="#111" stroke="#111" stroke-width="0.25">P078</text>
<text transform="translate(116.7,684.25) scale(1.008,1)" font-size="12.0" text-anchor="end" fill="#111" stroke="#111" stroke-width="0.25" xml:space="preserve">(FHL2)</text>
<text x="140.95" y="683.85" font-size="11.4" text-anchor="start" font-weight="normal" fill="#111" stroke="#111" stroke-width="0.25" >9%/n.a./n.a.</text>
<text transform="translate(46.5,700.00) scale(1.008,1)" font-size="12.0" fill="#111" stroke="#111" stroke-width="0.25">P074</text>
<text transform="translate(116.7,700.00) scale(1.008,1)" font-size="12.0" text-anchor="end" fill="#111" stroke="#111" stroke-width="0.25" xml:space="preserve">(FHL5)</text>
<text x="140.45" y="699.60" font-size="11.4" text-anchor="start" font-weight="normal" fill="#111" stroke="#111" stroke-width="0.25" >1%/n.a./n.a.</text>
<text transform="translate(46.5,715.75) scale(1.008,1)" font-size="12.0" fill="#111" stroke="#111" stroke-width="0.25">P009</text>
<text transform="translate(116.7,715.75) scale(1.008,1)" font-size="12.0" text-anchor="end" fill="#111" stroke="#111" stroke-width="0.25" xml:space="preserve">(n.a.)</text>
<text x="139.70" y="715.35" font-size="11.4" text-anchor="start" font-weight="normal" fill="#111" stroke="#111" stroke-width="0.25" >88%/22%/n.a.</text>
<text transform="translate(46.5,731.50) scale(1.008,1)" font-size="12.0" fill="#111" stroke="#111" stroke-width="0.25">P066</text>
<text transform="translate(116.7,731.50) scale(1.008,1)" font-size="12.0" text-anchor="end" fill="#111" stroke="#111" stroke-width="0.25" xml:space="preserve">(FHL3)</text>
<text x="135.95" y="731.10" font-size="11.4" text-anchor="start" font-weight="normal" fill="#111" stroke="#111" stroke-width="0.25" >100%/n.a./n.a. (CNS only)</text>
<text x="402.30" y="448.75" font-size="11.4" text-anchor="middle" font-weight="normal" fill="#111" stroke="#111" stroke-width="0.25" >28%/n.a./n.a.</text>
<text x="402.30" y="462.50" font-size="11.4" text-anchor="middle" font-weight="normal" fill="#111" stroke="#111" stroke-width="0.25" >(flare); full DC at last FU</text>
<text x="127.00" y="755.80" font-size="11.9" text-anchor="middle" font-weight="normal" fill="#111" stroke="#111" stroke-width="0.25" >0</text>
<text x="241.90" y="755.80" font-size="11.9" text-anchor="middle" font-weight="normal" fill="#111" stroke="#111" stroke-width="0.25" >1000</text>
<text x="356.80" y="755.80" font-size="11.9" text-anchor="middle" font-weight="normal" fill="#111" stroke="#111" stroke-width="0.25" >2000</text>
<text x="471.70" y="755.80" font-size="11.9" text-anchor="middle" font-weight="normal" fill="#111" stroke="#111" stroke-width="0.25" >3000</text>
<text x="224.20" y="776.2" font-size="14.4" fill="#111" stroke="#111" stroke-width="0.3" textLength="26.90" lengthAdjust="spacingAndGlyphs">Time</text>
<text x="255.70" y="776.2" font-size="14.4" fill="#111" stroke="#111" stroke-width="0.3" textLength="25.60" lengthAdjust="spacingAndGlyphs">after</text>
<text x="286.20" y="776.2" font-size="14.4" fill="#111" stroke="#111" stroke-width="0.3" textLength="16.40" lengthAdjust="spacingAndGlyphs">1st</text>
<text x="307.40" y="776.2" font-size="14.4" fill="#111" stroke="#111" stroke-width="0.3" textLength="32.50" lengthAdjust="spacingAndGlyphs">HSCT</text>
<text x="344.00" y="776.2" font-size="14.4" fill="#111" stroke="#111" stroke-width="0.3" textLength="35.00" lengthAdjust="spacingAndGlyphs">[days]</text>
<text x="329.00" y="673.60" font-size="11.4" text-anchor="start" font-weight="normal" fill="#111" stroke="#111" stroke-width="0.25" >Time until DC levelled off</text>
<text x="329.00" y="687.30" font-size="11.4" text-anchor="start" font-weight="normal" fill="#111" stroke="#111" stroke-width="0.25" >Time until partial flare</text>
<text x="329.00" y="701.00" font-size="11.4" text-anchor="start" font-weight="normal" fill="#111" stroke="#111" stroke-width="0.25" >Duration without reactivation</text>
<text x="329.00" y="714.70" font-size="11.4" text-anchor="start" font-weight="normal" fill="#111" stroke="#111" stroke-width="0.25" >Time until 2nd HSCT</text>
<text x="329.00" y="728.40" font-size="11.4" text-anchor="start" font-weight="normal" fill="#111" stroke="#111" stroke-width="0.25" >Time until reactivation</text>
</g>
</svg>
</body></html>
